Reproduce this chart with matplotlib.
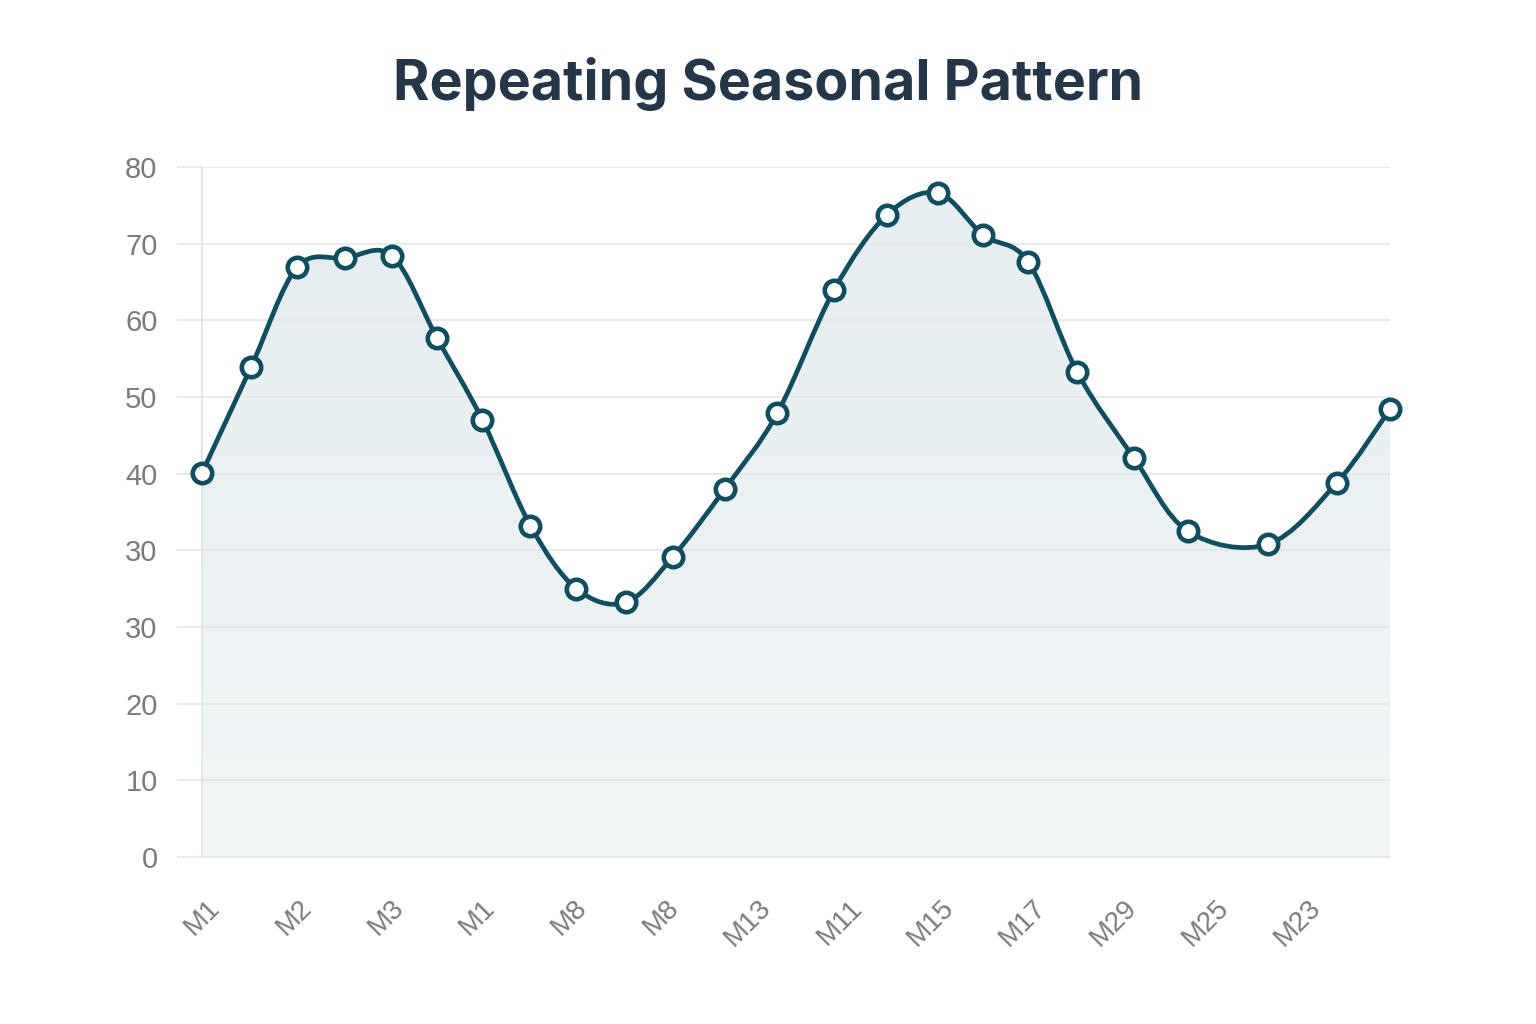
"""Repeating seasonal pattern: smoothed line with markers over a soft area fill."""

import numpy as np
import matplotlib
matplotlib.use("Agg")
import matplotlib.pyplot as plt
from matplotlib.path import Path
from matplotlib.patches import PathPatch

# --- Data (x in period steps, y in axis units) ---
x_pos = [0.0, 0.95, 1.84, 2.77, 3.68, 4.55, 5.43, 6.36, 7.25, 8.20, 9.11, 10.12,
         11.14, 12.24, 13.27, 14.25, 15.13, 16.00, 16.95, 18.04, 19.09, 20.64,
         21.97, 23.0]
values = [50.1, 63.9, 76.9, 78.1, 78.4, 67.7, 57.0, 43.2, 35.0, 33.2, 39.1, 48.0,
          57.9, 74.0, 83.8, 86.6, 81.1, 77.6, 63.2, 52.1, 42.5, 40.8, 48.8, 58.4]
x_labels = ["M1", "M2", "M3", "M1", "M8", "M8", "M13", "M11", "M15", "M17",
            "M29", "M25", "M23"]
y_labels = ["0", "10", "20", "30", "30", "40", "50", "60", "70", "80"]

LINE = "#0b4f60"
GRID = "#e3e6e8"
TICK = "#7b7b7b"
TITLE = "#24364a"


def smooth_path(xs, ys, close_to=None):
    """Catmull-Rom curve through the points, as cubic Bezier path segments."""
    pts = np.column_stack([xs, ys])
    n = len(pts)
    verts = [pts[0]]
    codes = [Path.MOVETO]
    for i in range(n - 1):
        p0 = pts[max(i - 1, 0)]
        p1 = pts[i]
        p2 = pts[i + 1]
        p3 = pts[min(i + 2, n - 1)]
        c1 = p1 + (p2 - p0) / 6.0
        c2 = p2 - (p3 - p1) / 6.0
        verts += [c1, c2, p2]
        codes += [Path.CURVE4] * 3
    if close_to is not None:
        verts += [(xs[-1], close_to), (xs[0], close_to), pts[0]]
        codes += [Path.LINETO, Path.LINETO, Path.CLOSEPOLY]
    return Path(verts, codes)


fig = plt.figure(figsize=(15.36, 10.24), dpi=100)
ax = fig.add_axes([0.1315, 0.1631, 0.9049 - 0.1315, 0.8369 - 0.1631])
ax.set_xlim(0, 23)
ax.set_ylim(0, 90)

# Gradient area fill clipped to the curve
fill_path = smooth_path(x_pos, values, close_to=0)
fill_patch = PathPatch(fill_path, facecolor="none", edgecolor="none")
ax.add_patch(fill_patch)
grad = np.linspace(0, 1, 256).reshape(-1, 1)
img = ax.imshow(grad, extent=[0, 23, 0, 90], origin="lower", aspect="auto",
                cmap=matplotlib.colors.LinearSegmentedColormap.from_list(
                    "bg", ["#f1f5f6", "#e5eef1"]), zorder=1)
img.set_clip_path(fill_patch)

# Smoothed line and markers
ax.add_patch(PathPatch(smooth_path(x_pos, values), facecolor="none",
                       edgecolor=LINE, lw=3.4, capstyle="round",
                       joinstyle="round", zorder=3))
ax.plot(x_pos, values, linestyle="none", marker="o", markersize=14,
        markerfacecolor="white", markeredgecolor=LINE, markeredgewidth=3.3,
        zorder=4, clip_on=False)

# Grid and axes styling
ax.set_yticks(np.arange(0, 91, 10))
ax.set_yticklabels(y_labels)
ax.grid(axis="y", color=GRID, lw=1.2, zorder=0)
ax.tick_params(axis="y", length=18, width=1.2, color=GRID, pad=14,
               labelsize=21, labelcolor=TICK)
for lbl in ax.get_yticklabels():
    lbl.set_fontfamily("Liberation Sans")

tick_x = np.arange(len(x_labels)) * 1.775 + 0.28
ax.set_xticks(tick_x)
ax.set_xticklabels(x_labels, rotation=45, ha="right", va="center",
                   rotation_mode="anchor", fontsize=20, color=TICK,
                   fontfamily="Liberation Sans")
ax.tick_params(axis="x", length=0, pad=34)

for side in ("top", "right"):
    ax.spines[side].set_visible(False)
ax.spines["left"].set_color(GRID)
ax.spines["left"].set_linewidth(1.4)
ax.spines["bottom"].set_color(GRID)
ax.spines["bottom"].set_linewidth(1.4)
ax.spines["bottom"].set_bounds(0, 23)

fig.text(0.5, 0.918, "Repeating Seasonal Pattern", ha="center", va="center",
         fontsize=40, fontweight="bold", color=TITLE, fontfamily="Inter")

fig.savefig("out.png", dpi=100, facecolor="white")
